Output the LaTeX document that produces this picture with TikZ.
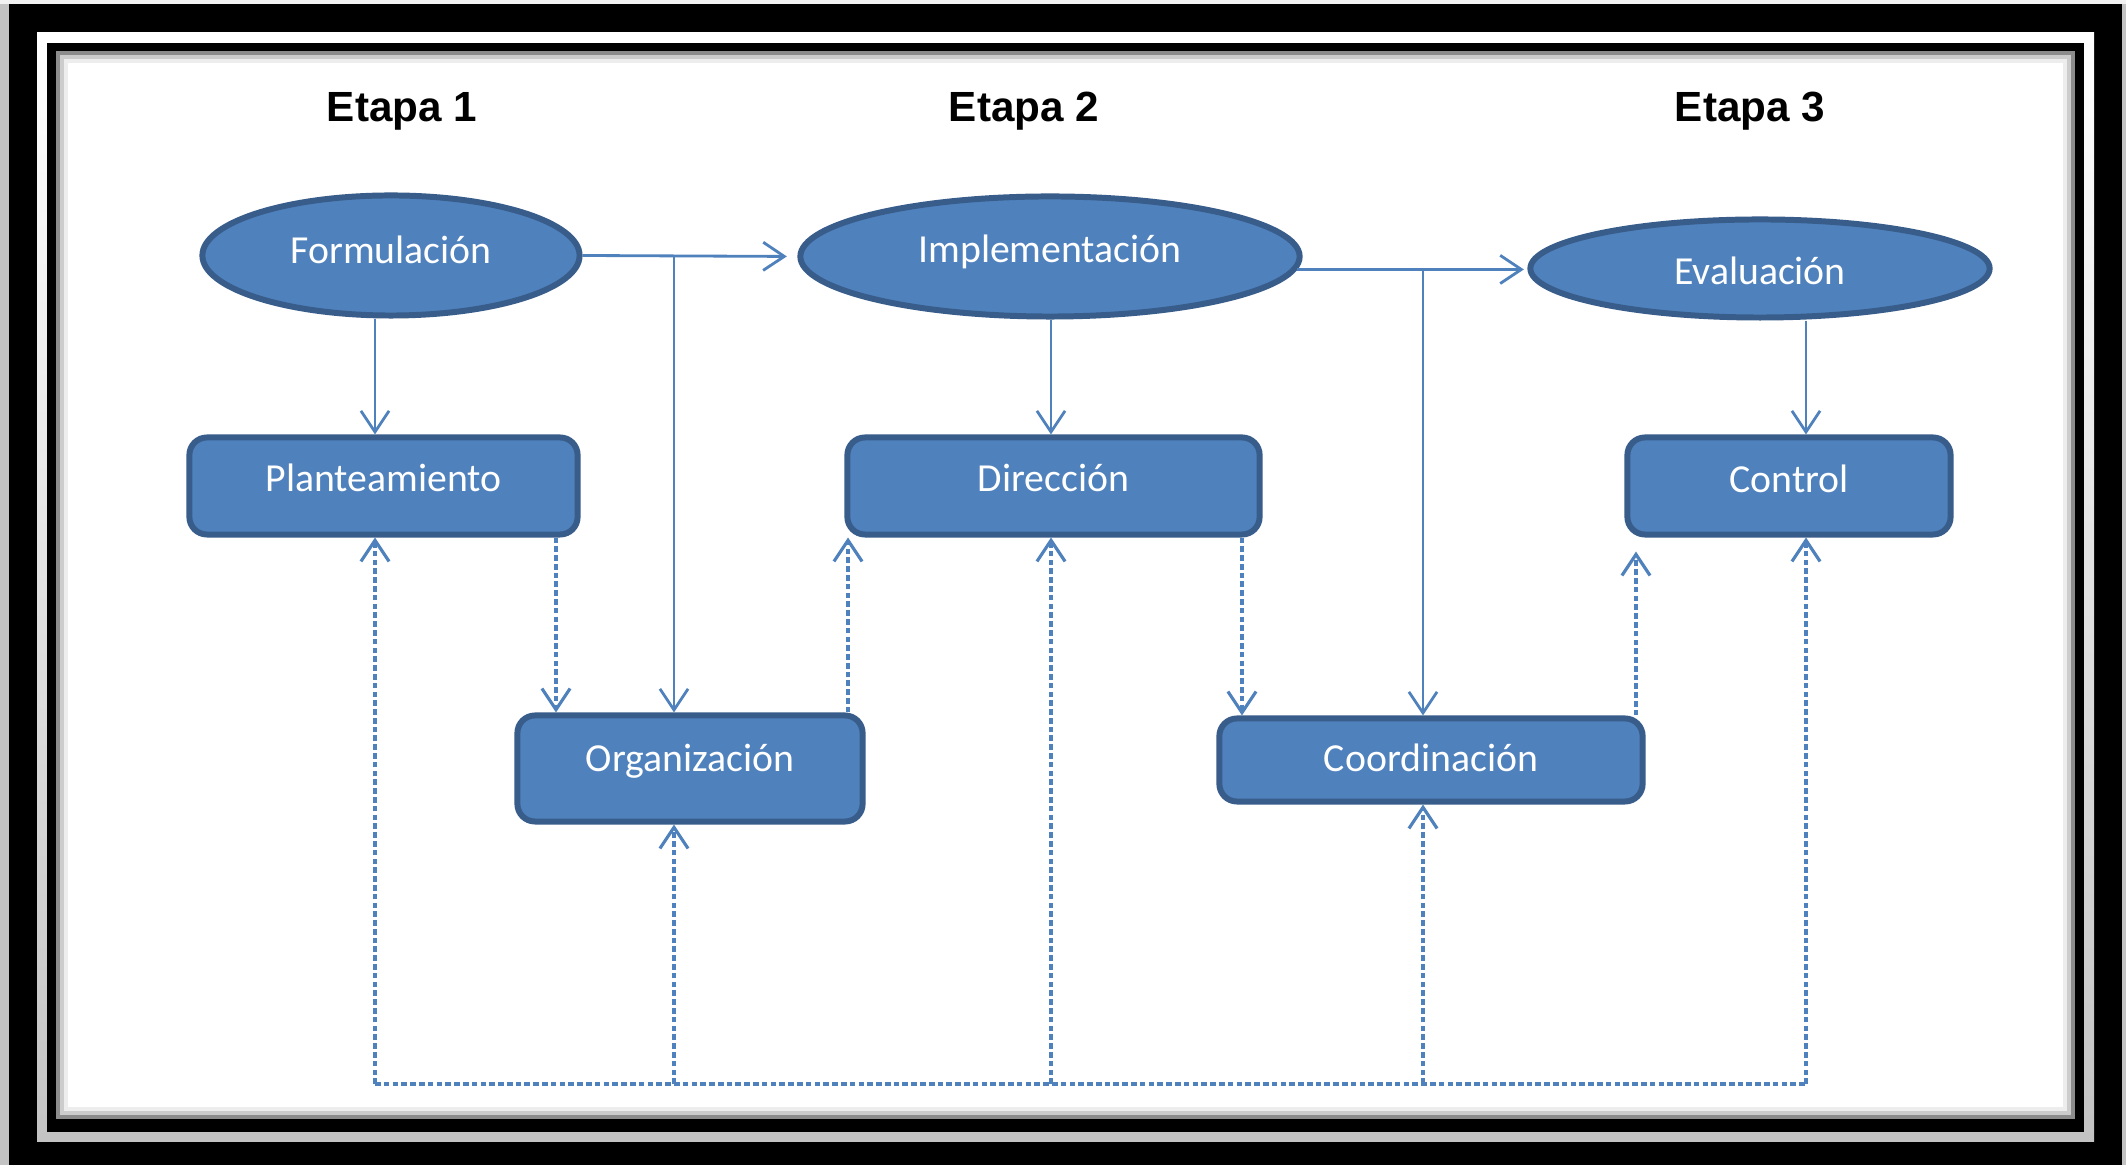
\documentclass[tikz,border=0pt]{standalone}
\usepackage{fontspec}
\setmainfont{Carlito}
\newfontfamily\hdrfont{Liberation Sans}
\usetikzlibrary{arrows.meta,shapes.geometric}
\definecolor{nodefill}{RGB}{79,129,189}
\definecolor{nodeline}{RGB}{56,93,138}
\definecolor{conn}{RGB}{79,129,189}
\definecolor{bggray}{RGB}{195,195,195}
\begin{document}
\begin{tikzpicture}[x=0.01cm,y=-0.01cm,
  ell/.style={ellipse, draw=nodeline, fill=nodefill, line width=1.7pt, inner sep=0pt,
    text=white, font=\fontsize{11.3}{13}\selectfont},
  box/.style={rectangle, rounded corners=5pt, draw=nodeline, fill=nodefill, line width=1.7pt,
    inner sep=0pt, text=white, font=\fontsize{11.3}{13}\selectfont},
  tb/.style 2 args={text height=#1, text depth=#2},
  hdr/.style={font=\hdrfont\bfseries\fontsize{12}{14}\selectfont, text depth=0pt, inner sep=0pt},
  link/.style={draw=conn, line width=0.8pt},
  arr/.style={link, -{Straight Barb[length=6pt,width=8pt]}},
  dlink/.style={link, line width=0.9pt, dash pattern=on 1.6pt off 0.9pt},
  darr/.style={arr, line width=0.9pt, dash pattern=on 1.6pt off 0.9pt}]
% frame
\useasboundingbox (0,0) rectangle (2126,1165);
\fill[bggray] (0,0) rectangle (2126,1165);
\fill[white!90!gray] (0,0) rectangle (2126,4);
\fill[black] (9,4) rectangle (2122,1165);
\shade[top color=white, bottom color=bggray] (37,33) rectangle (2094,1142);
\fill[black] (47,43) rectangle (2084,1132);
\fill[white] (57,52) rectangle (2074,1118);
\draw[black!45, line width=1.2pt] (58,53) rectangle (2073,1117);
\draw[black!20, line width=1.2pt] (62,57) rectangle (2069,1113);
\draw[black!7, line width=1.2pt] (66,61) rectangle (2065,1109);
% headers
\node[hdr] (h1) at (402,107) {Etapa 1};
\node[hdr] (h2) at (1024,107) {Etapa 2};
\node[hdr] (h3) at (1750,107) {Etapa 3};
% ellipses
\node[ell, tb={8pt}{3.4pt}, minimum width=3.77cm, minimum height=1.20cm] (F) at (391,255.5) {Formulación};
\node[ell, tb={8pt}{4.8pt}, minimum width=4.99cm, minimum height=1.20cm] (I) at (1050,256.5) {Implementación};
\node[ell, tb={10pt}{1.1pt}, minimum width=4.59cm, minimum height=0.98cm] (E) at (1760,268.5) {Evaluación};
% boxes
\node[box, tb={8pt}{4.8pt}, minimum width=3.88cm, minimum height=0.97cm] (P) at (383.5,486) {Planteamiento};
\node[box, tb={8pt}{4.8pt}, minimum width=4.12cm, minimum height=0.97cm] (D) at (1053.5,486) {Dirección};
\node[box, tb={8pt}{4.5pt}, minimum width=3.23cm, minimum height=0.97cm] (Ct) at (1789,486) {Control};
\node[box, tb={8pt}{6.5pt}, minimum width=3.45cm, minimum height=1.06cm] (O) at (690,768.5) {Organización};
\node[box, tb={8pt}{1.7pt}, minimum width=4.23cm, minimum height=0.83cm] (Co) at (1431,760) {Coordinación};
% column coordinates
\coordinate (c1) at (375,0);
\coordinate (c2) at (674,0);
\coordinate (c3) at (1051,0);
\coordinate (c4) at (1423,0);
\coordinate (c5) at (1806,0);
\coordinate (d1) at (556,0);
\coordinate (d2) at (848,0);
\coordinate (d3) at (1242,0);
\coordinate (d4) at (1636,0);
\coordinate (bus) at (0,1084);
% solid connectors
\draw[arr] (F.south -| c1) -- (P.north -| c1);
\draw[arr, shorten >=3pt] (F.east) -- (I.west);
\draw[arr] (F.east -| c2) -- (O.north -| c2);
\draw[arr] (I.south -| c3) -- (D.north -| c3);
\draw[arr, shorten >=1pt] (I.-3) -- (I.-3 -| E.west);
\draw[arr] (I.-3 -| c4) -- (Co.north -| c4);
\draw[arr] (E.south -| c5) -- (Ct.north -| c5);
% dashed connectors
\draw[darr] (P.south -| d1) -- (O.north -| d1);
\draw[darr] (O.north -| d2) -- (D.south -| d2);
\draw[darr] (D.south -| d3) -- (Co.north -| d3);
\draw[darr, shorten >=4pt] (Co.north -| d4) -- (Ct.south -| d4);
% feedback bus
\draw[dlink] (c1 |- bus) -- (c5 |- bus);
\draw[darr] (c1 |- bus) -- (P.south -| c1);
\draw[darr] (c2 |- bus) -- (O.south -| c2);
\draw[darr] (c3 |- bus) -- (D.south -| c3);
\draw[darr] (c4 |- bus) -- (Co.south -| c4);
\draw[darr] (c5 |- bus) -- (Ct.south -| c5);
\end{tikzpicture}
\end{document}
